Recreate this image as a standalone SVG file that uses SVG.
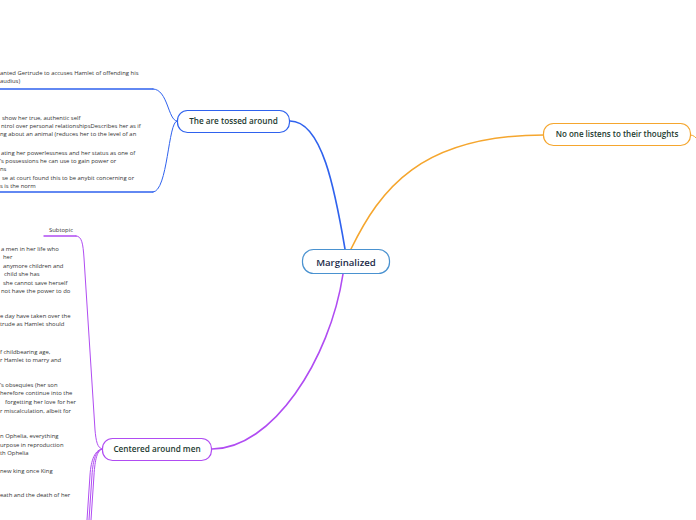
<svg xmlns="http://www.w3.org/2000/svg" width="696" height="520" viewBox="0 0 696 520">
<style>
.node{fill:#fff;stroke-width:1.2}
.lbl{font-family:"Open Sans","Noto Sans",sans-serif;font-weight:600;fill:#1d3a30;text-anchor:middle}
.leaf{font-family:"Open Sans","Noto Sans",sans-serif;font-size:5.9px;fill:#333}
.c{fill:none;stroke-linecap:round}
.blue{stroke:#2f62ee}
.orange{stroke:#f5a62e}
.purple{stroke:#b04cf2}
</style>
<rect width="696" height="520" fill="#fff"/>
<g id="connectors">
<path class="c blue" stroke-width="1.6" d="M345,249 C335,190 322,121 290,121"/>
<path class="c orange" stroke-width="1.6" d="M351,249 C380,190 420,135 544,135"/>
<path class="c orange" stroke-width="1" d="M690,135 C694,135 695,137 698,140"/>
<path class="c purple" stroke-width="1.6" d="M343,274 C330,360 272,449 212,449"/>
<path class="c blue" stroke-width="1" d="M177,121 C168,121 168,89 153,89"/>
<path class="c blue" stroke-width="1.4" d="M153,89 L0,89"/>
<path class="c blue" stroke-width="1" d="M177,121 C168,121 168,192 153,192"/>
<path class="c blue" stroke-width="1.4" d="M153,192 L0,192"/>
<path class="c purple" stroke-width="1" d="M103,449 C97,449 96,440 95,430 L84,258 C83,244 82,236 76,236"/>
<path class="c purple" stroke-width="1.4" d="M76,236 L44,236"/>
<path class="c purple" stroke-width="1" d="M103,449 C97,449 95,460 94,475 L91,520"/>
<path class="c purple" stroke-width="1" d="M103,449 C96,449 93,460 92,475 L89,520"/>
<path class="c purple" stroke-width="1" d="M103,449 C95,449 91,460 90,475 L87,520"/>
</g>
<g id="marginalized">
<rect class="node" x="302.5" y="249.5" width="87" height="24" rx="11" stroke="#4a92d0"/>
<text class="lbl" x="346" y="265.5" font-size="9.6" style="fill:#1b2a48">Marginalized</text>
</g>
<g id="tossed">
<rect class="node" x="177.5" y="110.5" width="112" height="22" rx="10" stroke="#2f62ee"/>
<text class="lbl" x="233.5" y="124.3" font-size="8.2">The are tossed around</text>
</g>
<g id="listens">
<rect class="node" x="543.5" y="123.5" width="147" height="22" rx="10" stroke="#f5a62e"/>
<text class="lbl" x="617" y="137.3" font-size="8">No one listens to their thoughts</text>
</g>
<g id="centered">
<rect class="node" x="102.5" y="438.5" width="109" height="22" rx="10" stroke="#b04cf2"/>
<text class="lbl" x="157" y="452" font-size="8.2">Centered around men</text>
</g>
<g id="tossed-leaf-1">
<text class="leaf" x="0" y="75">anted Gertrude to accuses Hamlet of offending his</text>
<text class="leaf" x="0" y="83">audius)</text>
</g>
<g id="tossed-leaf-2">
<text class="leaf" x="2" y="119.5">show her true, authentic self</text>
<text class="leaf" x="1" y="127.5">ntrol over personal relationshipsDescribes her as if</text>
<text class="leaf" x="0" y="136">ng about an animal (reduces her to the level of an</text>
<text class="leaf" x="1" y="154.5">ating her powerlessness and her status as one of</text>
<text class="leaf" x="0" y="163">’s possessions he can use to gain power or</text>
<text class="leaf" x="0" y="171">ns</text>
<text class="leaf" x="2" y="179.5">se at court found this to be anybit concerning or</text>
<text class="leaf" x="0" y="188">s is the norm</text>
</g>
<g id="subtopic">
<text class="leaf" x="49" y="231.5">Subtopic</text>
</g>
<g id="centered-leaves">
<text class="leaf" x="1" y="251">a men in her life who</text>
<text class="leaf" x="3" y="259">her</text>
<text class="leaf" x="3" y="268">anymore children and</text>
<text class="leaf" x="4" y="276">child she has</text>
<text class="leaf" x="3" y="284.5">she cannot save herself</text>
<text class="leaf" x="1" y="293">not have the power to do</text>
<text class="leaf" x="0" y="317.5">e day have taken over the</text>
<text class="leaf" x="0" y="326">trude as Hamlet should</text>
<text class="leaf" x="0" y="353.5">f childbearing age,</text>
<text class="leaf" x="0" y="362">r Hamlet to marry and</text>
<text class="leaf" x="0" y="386.5">’s obsequies (her son</text>
<text class="leaf" x="0" y="395">herefore continue into the</text>
<text class="leaf" x="5" y="404">forgetting her love for her</text>
<text class="leaf" x="0" y="412.5">r miscalculation, albeit for</text>
<text class="leaf" x="0" y="437.5">n Ophelia, everything</text>
<text class="leaf" x="0" y="446.5">urpose in reproduction</text>
<text class="leaf" x="0" y="455">th Ophelia</text>
<text class="leaf" x="0" y="472.5">new king once King</text>
<text class="leaf" x="0" y="497">eath and the death of her</text>
</g>
</svg>
